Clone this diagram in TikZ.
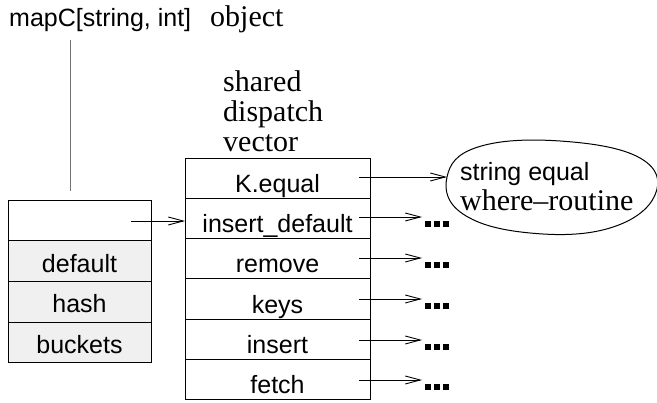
\documentclass[tikz,border=0pt]{standalone}
\usepackage{fontspec}
\setmainfont{Liberation Serif}
\setsansfont{Liberation Sans}
\usetikzlibrary{arrows.meta}
\begin{document}
\begin{tikzpicture}[x=1pt,y=-1pt,
  sanstxt/.style={inner sep=0pt,font=\sffamily\fontsize{25}{30}\selectfont},
  seriftxt/.style={inner sep=0pt,font=\rmfamily\fontsize{30}{30}\selectfont},
  rrow/.style={draw,line width=1pt,minimum width=185pt,minimum height=40.3pt,inner sep=0pt,outer sep=0pt},
  lrow/.style={draw,line width=1pt,minimum width=143pt,minimum height=40.7pt,inner sep=0pt,outer sep=0pt},
  grayrow/.style={lrow,fill=black!6},
  ptr/.style={line width=0.9pt,-{Straight Barb[length=15pt,width=8pt,line width=0.9pt]}},
  dotsq/.style={fill=black,minimum size=5.5pt,inner sep=0pt}
]
\useasboundingbox (0,0) rectangle (657,403);

% top labels
\node[sanstxt,anchor=base west] (mapc) at (9,27) {mapC[string, int]};
\node[seriftxt,anchor=base west] (obj) at (210,27) {object};
\node[seriftxt,anchor=base west] (sh) at (223,92) {shared};
\node[seriftxt,anchor=base west] (di) at (223,122) {dispatch};
\node[seriftxt,anchor=base west] (ve) at (223,152) {vector};

% left object box
\node[lrow] (l0) at (79.5,220.5) {};
\node[grayrow] (l1) at (79.5,261.2) {};
\node[grayrow] (l2) at (79.5,301.9) {};
\node[grayrow] (l3) at (79.5,342.6) {};
\node[sanstxt,anchor=base] at ([yshift=-11pt]l1.center) {default};
\node[sanstxt,anchor=base] at ([yshift=-11pt]l2.center) {hash};
\node[sanstxt,anchor=base] at ([yshift=-11pt]l3.center) {buckets};

% gray line from label
\coordinate (gtop) at (70,40);
\coordinate (gbot) at (70,191);
\draw[line width=1pt,black!55] (gtop) -- (gbot);

% right dispatch vector
\node[rrow] (r0) at (277.5,178.2) {};
\node[rrow] (r1) at (277.5,218.5) {};
\node[rrow] (r2) at (277.5,258.8) {};
\node[rrow] (r3) at (277.5,299.1) {};
\node[rrow] (r4) at (277.5,339.4) {};
\node[rrow] (r5) at (277.5,379.7) {};
\node[sanstxt,anchor=base] at ([yshift=-14pt]r0.center) {K.equal};
\node[sanstxt,anchor=base] at ([yshift=-14pt]r1.center) {insert\_default};
\node[sanstxt,anchor=base] at ([yshift=-14pt]r2.center) {remove};
\node[sanstxt,anchor=base] at ([yshift=-14pt]r3.center) {keys};
\node[sanstxt,anchor=base] at ([yshift=-14pt]r4.center) {insert};
\node[sanstxt,anchor=base] at ([yshift=-14pt]r5.center) {fetch};

% pointer from object to vector
\coordinate (ps) at (131,221);
\draw[ptr] (ps) -- (r1.west |- ps);

% blob
\draw[line width=1pt] plot[smooth cycle,tension=0.7] coordinates
  {(447,177) (478,147) (560,141) (640,158) (655,195) (610,228) (530,233) (463,214)};
\node[sanstxt,anchor=base west] (se) at (460,181) {string equal};
\node[seriftxt,anchor=base west] (wr) at (460,211) {where--routine};
\coordinate (blobin) at (447,177);

% arrows out of vector
\coordinate (a0) at (359,177);
\draw[ptr] (a0) -- (blobin);
\foreach \y [count=\i] in {217,258,299,340,380} {
  \coordinate (s\i) at (359,\y);
  \coordinate (e\i) at (422,\y);
  \draw[ptr] (s\i) -- (e\i);
  \node[dotsq] (d\i a) at (428,\y+7) {};
  \node[dotsq] (d\i b) at (437,\y+7) {};
  \node[dotsq] (d\i c) at (446,\y+7) {};
}
\end{tikzpicture}
\end{document}
